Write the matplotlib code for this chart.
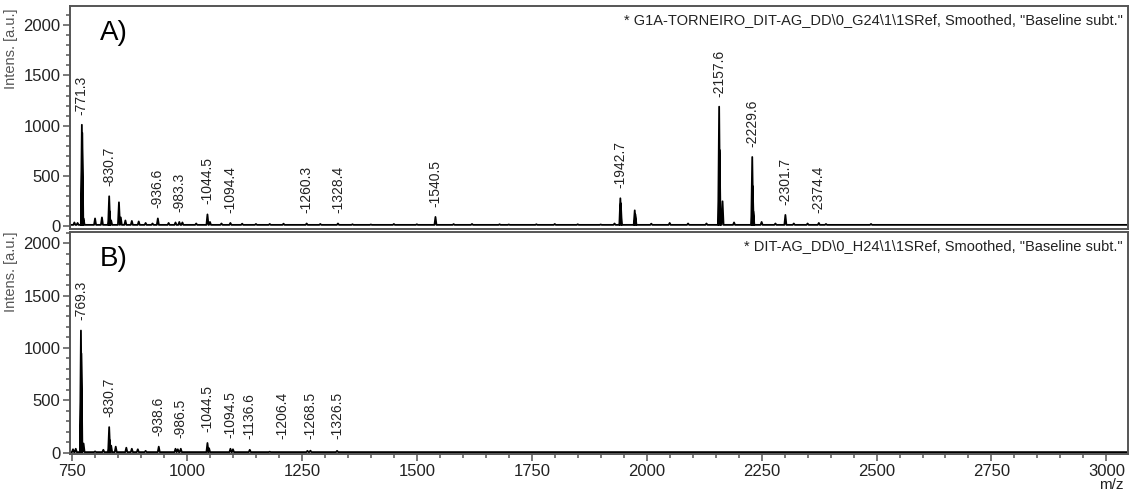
import numpy as np
import matplotlib
matplotlib.use("Agg")
from matplotlib import pyplot as plt
from matplotlib.ticker import MultipleLocator

plt.rcParams["font.family"] = ["Liberation Sans", "DejaVu Sans"]

# panel A: labelled peaks (m/z, intensity)
a_label_mz = [771.3, 830.7, 936.6, 983.3, 1044.5, 1094.4, 1260.3, 1328.4,
              1540.5, 1942.7, 2157.6, 2229.6, 2301.7, 2374.4]
a_label_int = [1010, 300, 80, 45, 120, 35, 30, 30,
               95, 280, 1190, 690, 115, 35]
# panel A: unlabelled peaks / isotopes / baseline bumps
a_other_mz = [755, 762, 772.3, 775, 800, 815, 831.7, 835, 852, 856, 866,
              880, 895, 910, 925, 960, 975, 990, 1020, 1050, 1075, 1120,
              1150, 1180, 1210, 1290, 1360, 1400, 1450, 1500, 1580, 1620,
              1680, 1700, 1760, 1800, 1850, 1900, 1930, 1943.7, 1974,
              1975.5, 2010, 2050, 2090, 2130, 2158.6, 2165, 2190, 2230.6,
              2232, 2250, 2280, 2320, 2350, 2390, 2488, 2600, 2870]
a_other_int = [40, 35, 930, 80, 80, 90, 150, 60, 240, 90, 60,
               55, 50, 35, 30, 35, 40, 40, 30, 45, 30, 28,
               25, 25, 28, 25, 22, 20, 25, 22, 24, 25,
               22, 20, 22, 25, 22, 20, 30, 230, 160,
               120, 28, 35, 30, 30, 760, 250, 40, 400,
               150, 45, 30, 30, 30, 25, 25, 15, 15]
a_baseline = 16

# panel B
b_label_mz = [769.3, 830.7, 938.6, 986.5, 1044.5, 1094.5, 1136.6, 1206.4,
              1268.5, 1326.5]
b_label_int = [1166, 246, 60, 40, 95, 40, 30, 8, 22, 20]
b_other_mz = [752, 758, 770.3, 775, 800, 818, 831.7, 835, 845, 868, 880,
              893, 910, 975, 980, 1048, 1100, 1180, 1262]
b_other_int = [35, 40, 948, 90, 15, 30, 123, 70, 60, 50, 40,
               35, 20, 40, 35, 45, 35, 12, 20]
b_baseline = 8

header_a = '* G1A-TORNEIRO_DIT-AG_DD\\0_G24\\1\\1SRef, Smoothed, "Baseline subt."'
header_b = '* DIT-AG_DD\\0_H24\\1\\1SRef, Smoothed, "Baseline subt."'

spine_col = "#555555"


def spectrum(mz_list, int_list, base, half=2.2):
    order = np.argsort(mz_list)
    xs, ys = [740], [base]
    for i in order:
        m, h = mz_list[i], int_list[i]
        xs += [m - half, m, m + half]
        ys += [base, h, base]
    xs.append(3060)
    ys.append(base)
    return xs, ys


def draw_panel(ax, lab_mz, lab_int, oth_mz, oth_int, base, ylim, tag, header):
    xs, ys = spectrum(lab_mz + oth_mz, lab_int + oth_int, base)
    ax.plot(xs, ys, color="black", lw=1.3)
    for m, h in zip(lab_mz, lab_int):
        ax.text(m, max(h + 100, 130), f"-{m:.1f}", rotation=90,
                ha="center", va="bottom", fontsize=10, color="#222222")
    ax.set_xlim(745.5, 3047)
    ax.set_ylim(*ylim)
    ax.yaxis.set_major_locator(MultipleLocator(500))
    ax.yaxis.set_minor_locator(MultipleLocator(100))
    ax.xaxis.set_major_locator(MultipleLocator(250))
    ax.xaxis.set_minor_locator(MultipleLocator(50))
    ax.tick_params(axis="both", which="major", length=5, width=1.1,
                   color=spine_col, labelsize=12, pad=2, labelcolor="#222222")
    ax.tick_params(axis="both", which="minor", length=3, width=1.1,
                   color=spine_col)
    for s in ax.spines.values():
        s.set_color(spine_col)
        s.set_linewidth(1.4)
    ax.set_ylabel("Intens. [a.u.]", fontsize=10.5, color="#555555")
    ax.text(0.028, 0.88, tag, transform=ax.transAxes, fontsize=20,
            va="center", ha="left", color="black")
    ax.text(0.995, 0.935, header, transform=ax.transAxes, fontsize=10.5,
            va="center", ha="right", color="#222222")


fig = plt.figure(figsize=(11.31, 4.9), dpi=100)
ax_a = fig.add_axes([70 / 1131, 1 - 229 / 490, 1058 / 1131, 223 / 490])
ax_b = fig.add_axes([70 / 1131, 1 - 454 / 490, 1058 / 1131, 222 / 490])

draw_panel(ax_a, a_label_mz, a_label_int, a_other_mz, a_other_int,
           a_baseline, (-25, 2190), "A)", header_a)
draw_panel(ax_b, b_label_mz, b_label_int, b_other_mz, b_other_int,
           b_baseline, (-10, 2105), "B)", header_b)

ax_a.tick_params(axis="x", which="both", bottom=False, labelbottom=False)
ax_a.yaxis.set_label_coords(-0.049, 0.81)
ax_b.yaxis.set_label_coords(-0.049, 0.82)
ax_b.text(0.996, -0.14, "m/z", transform=ax_b.transAxes, fontsize=11,
          ha="right", va="center", color="#222222")

fig.savefig("out.png", dpi=100)
